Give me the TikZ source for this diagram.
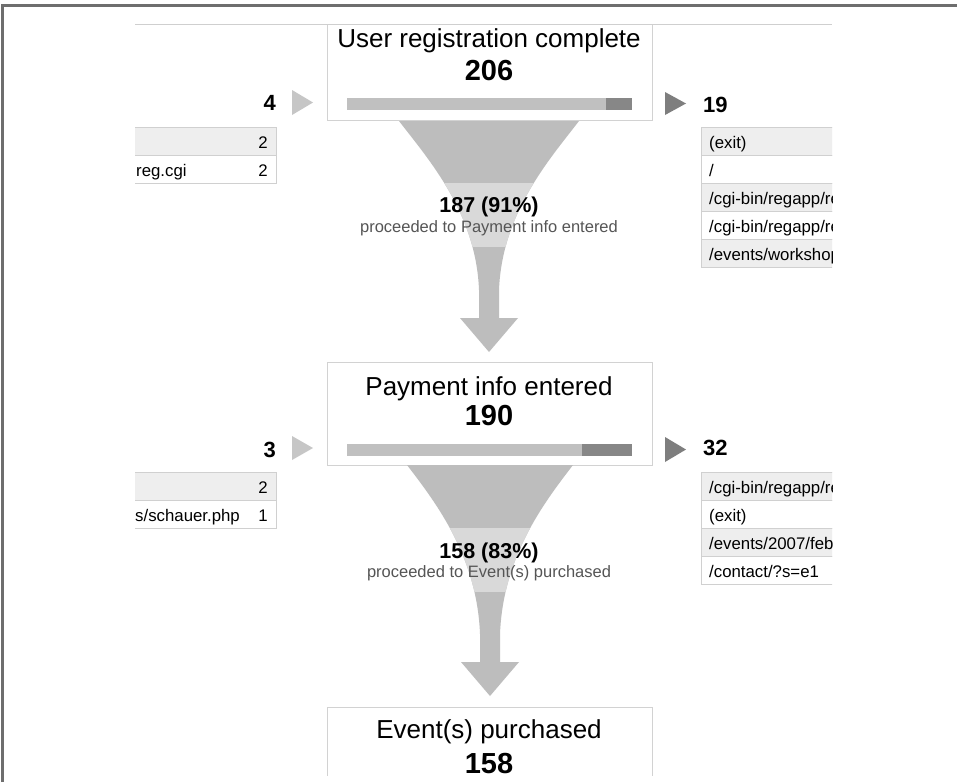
\documentclass[tikz,border=0pt]{standalone}
\usepackage{fontspec}
\setmainfont{Liberation Sans}
\definecolor{frameC}{HTML}{6E6E6E}
\definecolor{topC}{HTML}{CFCFCF}
\definecolor{boxC}{HTML}{D2D2D2}
\definecolor{funC}{HTML}{BDBDBD}
\definecolor{bandC}{HTML}{D9D9D9}
\definecolor{barL}{HTML}{C0C0C0}
\definecolor{barD}{HTML}{878787}
\definecolor{rowG}{HTML}{EEEEEE}
\definecolor{rowB}{HTML}{D0D0D0}
\definecolor{txtG}{HTML}{555555}
\definecolor{triL}{HTML}{C6C6C6}
\definecolor{triD}{HTML}{7E7E7E}
\newcommand{\fnlshape}[1]{(-#1,0) .. controls (-#1+30,39) and (-13,92) .. (-10,169) -- (-10,197) -- (-29,197) -- (0,231) -- (29,197) -- (10,197) -- (10,169) .. controls (13,92) and (#1-30,39) .. (#1,0) -- cycle}
\begin{document}
\begin{tikzpicture}[x=1pt,y=-1pt,
  stepbox/.style={draw=boxC, line width=1.1pt, fill=white, inner sep=0pt, minimum width=325, anchor=north west},
  titletxt/.style={font=\fontsize{26}{30}\selectfont, anchor=base, inner sep=0pt},
  bignum/.style={font=\bfseries\fontsize{29}{32}\selectfont, anchor=base, inner sep=0pt},
  sidenum/.style={font=\bfseries\fontsize{22}{24}\selectfont, inner sep=0pt},
  pcttxt/.style={font=\bfseries\fontsize{21.5}{24}\selectfont, anchor=base, inner sep=0pt},
  subtxt/.style={font=\fontsize{16.5}{19}\selectfont, text=txtG, anchor=base, inner sep=0pt},
  tabrow/.style={draw=rowB, line width=0.8pt, minimum height=28, inner sep=0pt, anchor=north west},
  tabtxt/.style={font=\fontsize{16.8}{19}\selectfont, inner sep=0pt},
  funnel/.style={fill=funC}
]
\useasboundingbox (0,0) rectangle (957,782);
\fill[white] (0,0) rectangle (957,782);
\draw[frameC, line width=2.2] (2.5,782) -- (2.5,5.5) -- (957,5.5);
\begin{scope}
\clip (135,24) rectangle (832,775);
% ---------- boxes ----------
\node[stepbox, minimum height=96] (b1) at (327,24) {};
\node[stepbox, minimum height=103] (b2) at (327,362) {};
\node[stepbox, minimum height=100] (b3) at (327,707) {};
\node[titletxt] (t1) at (489,47) {User registration complete};
\node[bignum] (n1) at (489,80) {206};
\node[titletxt] (t2) at (489,395) {Payment info entered};
\node[bignum] (n2) at (489,425) {190};
\node[titletxt] (t3) at (489,738) {Event(s) purchased};
\node[bignum] (n3) at (489,773) {158};
% ---------- bars ----------
\fill[barL] (347,98) rectangle (632,110);
\fill[barD] (606,98) rectangle (632,110);
\fill[barL] (347,444) rectangle (632,456);
\fill[barD] (582,444) rectangle (632,456);
% ---------- funnels ----------
\begin{scope}[shift={(489,121)}]
  \fill[funnel] \fnlshape{90};
  \begin{scope}
    \clip \fnlshape{90};
    \fill[bandC] (-120,62) rectangle (120,126);
  \end{scope}
\end{scope}
\begin{scope}[shift={(490,465)}]
  \fill[funnel] \fnlshape{83};
  \begin{scope}
    \clip \fnlshape{83};
    \fill[bandC] (-120,63) rectangle (120,127);
  \end{scope}
\end{scope}
\node[pcttxt] (p1) at (489,212) {187 (91\%)};
\node[subtxt] (s1) at (489,232) {proceeded to Payment info entered};
\node[pcttxt] (p2) at (489,558) {158 (83\%)};
\node[subtxt] (s2) at (489,577) {proceeded to Event(s) purchased};
% ---------- side arrows and counts ----------
\fill[triL] (292,90) -- (313,102.5) -- (292,115) -- cycle;
\fill[triD] (665,92) -- (686,103.5) -- (665,115) -- cycle;
\fill[triL] (292,436) -- (313,448) -- (292,460) -- cycle;
\fill[triD] (665,437) -- (686,449.5) -- (665,462) -- cycle;
\node[sidenum, anchor=base east] (in1) at (276,110) {4};
\node[sidenum, anchor=base west] (out1) at (703,112) {19};
\node[sidenum, anchor=base east] (in2) at (276,457) {3};
\node[sidenum, anchor=base west] (out2) at (703,455) {32};
% ---------- left tables ----------
\node[tabrow, fill=rowG, minimum width=161] (la1) at (115,127) {};
\node[tabrow, fill=white, minimum width=161] (la2) at (115,155) {};
\node[tabtxt, anchor=base east] at (268,148) {2};
\node[tabtxt, anchor=base east] at (268,176) {2};
\node[tabtxt, anchor=base west] at (136,176) {reg.cgi};
\node[tabrow, fill=rowG, minimum width=161] (lb1) at (115,472) {};
\node[tabrow, fill=white, minimum width=161] (lb2) at (115,500) {};
\node[tabtxt, anchor=base east] at (268,493) {2};
\node[tabtxt, anchor=base east] at (268,521) {1};
\node[tabtxt, anchor=base west] at (135,521) {s/schauer.php};
% ---------- right tables ----------
\node[tabrow, fill=rowG, minimum width=160] (ra1) at (701,127) {};
\node[tabrow, fill=white, minimum width=160] (ra2) at (701,155) {};
\node[tabrow, fill=rowG, minimum width=160] (ra3) at (701,183) {};
\node[tabrow, fill=white, minimum width=160] (ra4) at (701,211) {};
\node[tabrow, fill=rowG, minimum width=160] (ra5) at (701,239) {};
\node[tabtxt, anchor=base west] at (709,148) {(exit)};
\node[tabtxt, anchor=base west] at (709,176) {/};
\node[tabtxt, anchor=base west] at (709,204) {/cgi-bin/regapp/re};
\node[tabtxt, anchor=base west] at (709,232) {/cgi-bin/regapp/re};
\node[tabtxt, anchor=base west] at (709,260) {/events/workshops};
\node[tabrow, fill=rowG, minimum width=160] (rb1) at (701,472) {};
\node[tabrow, fill=white, minimum width=160] (rb2) at (701,500) {};
\node[tabrow, fill=rowG, minimum width=160] (rb3) at (701,528) {};
\node[tabrow, fill=white, minimum width=160] (rb4) at (701,556) {};
\node[tabtxt, anchor=base west] at (709,493) {/cgi-bin/regapp/re};
\node[tabtxt, anchor=base west] at (709,521) {(exit)};
\node[tabtxt, anchor=base west] at (709,549) {/events/2007/feb};
\node[tabtxt, anchor=base west] at (709,577) {/contact/?s=e1};
\end{scope}
\draw[topC, line width=1.5] (135,24.5) -- (832,24.5);
\end{tikzpicture}
\end{document}
